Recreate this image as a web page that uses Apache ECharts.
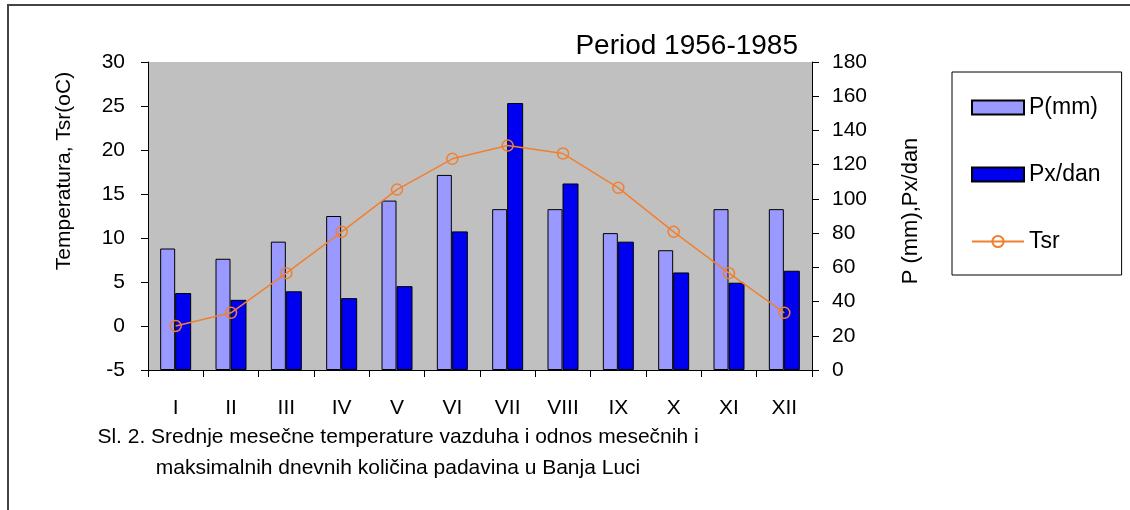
<!DOCTYPE html>
<html>
<head>
<meta charset="utf-8">
<title>Banja Luka</title>
<script src="https://cdn.jsdelivr.net/npm/echarts@6/dist/echarts.min.js"></script>
<style>
    html, body { margin: 0; padding: 0; background: #fff; }
    #chart { width: 1130px; height: 510px; }
</style>
</head>
<body>
<div id="chart"></div>
<script>
// months
const months = ['I', 'II', 'III', 'IV', 'V', 'VI', 'VII', 'VIII', 'IX', 'X', 'XI', 'XII']
// monthly precipitation (mm)
const pMm = [71, 65, 75, 90, 99, 114, 94, 94, 80, 70, 94, 94]
// max daily precipitation (mm)
const pxDan = [45, 41, 46, 42, 49, 81, 156, 109, 75, 57, 51, 58]
// mean monthly temperature (oC)
const tsr = [0, 1.5, 6.0, 10.7, 15.5, 19.0, 20.5, 19.6, 15.7, 10.7, 6.0, 1.5]

const font = 'Liberation Sans, Arial, sans-serif'
const chart = echarts.init(document.getElementById('chart'))

const option = {
    animation: false,
    textStyle: { fontFamily: font, color: '#000' },
    title: [
        {
            text: 'Period 1956-1985',
            right: 332,
            top: 32,
            padding: 0,
            textStyle: { fontFamily: font, fontSize: 28, fontWeight: 'normal', color: '#000' }
        },
        {
            text: 'Sl. 2. Srednje mesečne temperature vazduha i odnos mesečnih i\nmaksimalnih dnevnih količina padavina u Banja Luci',
            left: 398,
            top: 422,
            padding: 0,
            textAlign: 'center',
            textStyle: { fontFamily: font, fontSize: 21, fontWeight: 'normal', color: '#000', lineHeight: 31 }
        }
    ],
    graphic: [
        {
            type: 'rect',
            shape: { x: 8, y: 5, width: 1140, height: 520 },
            style: { fill: 'none', stroke: '#444', lineWidth: 2 },
            silent: true
        }
    ],
    legend: {
        orient: 'vertical',
        left: 952,
        top: 72,
        padding: [24, 21, 22, 19],
        itemGap: 44,
        itemWidth: 52,
        itemHeight: 14,
        itemTextGap: 7,
        borderColor: '#000',
        borderWidth: 1,
        backgroundColor: '#fff',
        textStyle: { fontFamily: font, fontSize: 23, color: '#000' },
        data: [
            { name: 'P(mm)', icon: 'rect' },
            { name: 'Px/dan', icon: 'rect' },
            { name: 'Tsr' }
        ]
    },
    grid: {
        left: 148,
        top: 62,
        right: 318,
        bottom: 140,
        show: true,
        backgroundColor: '#C0C0C0',
        borderWidth: 0,
        outerBoundsMode: 'none'
    },
    xAxis: {
        type: 'category',
        data: months,
        axisLine: { onZero: false, lineStyle: { color: '#000', width: 1 } },
        axisTick: { show: true, length: 7, lineStyle: { color: '#000' } },
        axisLabel: { fontFamily: font, fontSize: 21, color: '#000', margin: 28 },
        splitLine: { show: false }
    },
    yAxis: [
        {
            type: 'value',
            min: -5,
            max: 30,
            interval: 5,
            name: 'Temperatura, Tsr(oC)',
            nameLocation: 'middle',
            nameRotate: 90,
            nameGap: 73,
            nameTextStyle: { fontFamily: font, fontSize: 21, color: '#000', padding: [0, 0, 0, 90] },
            axisLine: { show: true, lineStyle: { color: '#000', width: 1 } },
            axisTick: { show: true, length: 7, lineStyle: { color: '#000' } },
            axisLabel: { fontFamily: font, fontSize: 21, color: '#000', margin: 23 },
            splitLine: { show: false }
        },
        {
            type: 'value',
            min: 0,
            max: 180,
            interval: 20,
            position: 'right',
            name: 'P (mm),Px/dan',
            nameLocation: 'middle',
            nameRotate: 90,
            nameGap: 88,
            nameTextStyle: { fontFamily: font, fontSize: 22, color: '#000', padding: [0, 0, 0, 10] },
            axisLine: { show: true, lineStyle: { color: '#000', width: 1 } },
            axisTick: { show: true, length: 7, lineStyle: { color: '#000' } },
            axisLabel: { fontFamily: font, fontSize: 21, color: '#000', margin: 20 },
            splitLine: { show: false }
        }
    ],
    series: [
        {
            name: 'P(mm)',
            type: 'bar',
            yAxisIndex: 1,
            barWidth: 15,
            barGap: '0%',
            itemStyle: { color: '#9999FF', borderColor: '#000', borderWidth: 1 },
            data: pMm
        },
        {
            name: 'Px/dan',
            type: 'bar',
            yAxisIndex: 1,
            barWidth: 16,
            barGap: '0%',
            itemStyle: { color: '#0000F0', borderColor: '#000', borderWidth: 1 },
            data: pxDan
        },
        {
            name: 'Tsr',
            type: 'line',
            yAxisIndex: 0,
            symbol: 'circle',
            symbolSize: 11,
            lineStyle: { color: '#F08030', width: 1.5 },
            itemStyle: { color: 'rgba(0,0,0,0)', borderColor: '#F08030', borderWidth: 1.5 },
            data: tsr
        }
    ]
}
chart.setOption(option, true)
</script>
</body>
</html>
